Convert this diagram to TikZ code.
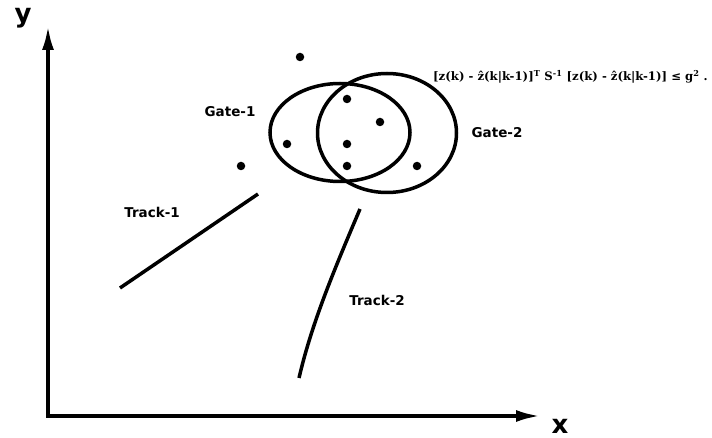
\documentclass[tikz,border=0pt]{standalone}
\usepackage{fontspec}
\setmainfont{DejaVu Sans}
\newfontfamily\formfont{DejaVu Serif}
\usetikzlibrary{arrows.meta,shapes.geometric}

\begin{document}
\begin{tikzpicture}[
 x=1pt,y=-1pt,
 axis/.style={line width=3.5pt,-{Latex[length=24pt,width=12pt]}},
 gate/.style={draw,ellipse,line width=3.5pt,inner sep=0pt},
 track/.style={line width=3.5pt},
 meas/.style={circle,fill,inner sep=0pt,minimum size=8.5pt},
 lbl/.style={font=\bfseries\fontsize{13.5}{15}\selectfont,inner sep=0pt},
 axlbl/.style={font=\bfseries\fontsize{26}{28}\selectfont,inner sep=0pt},
 formula/.style={font=\formfont\bfseries\fontsize{11.7}{13}\selectfont,inner sep=0pt,anchor=west}]
\useasboundingbox (0,0) rectangle (712,438);
% axes
\coordinate (origin) at (48,416);
\coordinate (corner) at (48,417.75);
\coordinate (ytip) at (48,26);
\coordinate (xtip) at (540,416);
\draw[axis] (corner)--(ytip);
\draw[axis] (origin)--(xtip);
\node[axlbl] (ylab) at (23,18) {y};
\node[axlbl] (xlab) at (560,426) {x};
% gates
\node[gate,minimum width=140pt,minimum height=98pt] (gate1) at (340,132.5) {};
\node[gate,minimum width=139pt,minimum height=119pt] (gate2) at (387,133) {};
\node[lbl] (g1lab) at (230,112) {Gate-1};
\node[lbl] (g2lab) at (497,133) {Gate-2};
\node[formula] (gatecond) at (433,77) {[z(k) - ẑ(k|k-1)]\textsuperscript{T} S\textsuperscript{-1} [z(k) - ẑ(k|k-1)] ≤ g\textsuperscript{2} .};
% measurements
\foreach \px/\py [count=\i] in {300/57,347/99,380/122,287/144,347/144,347/166,417/166,241/166}
 \node[meas] (m\i) at (\px,\py) {};
% tracks
\coordinate (t1a) at (120,288);
\coordinate (t1b) at (258,194);
\coordinate (t2a) at (360,209);
\coordinate (t2b) at (299,378);
\draw[track] (t1a)--(t1b);
\draw[track] (t2a) .. controls (335,268) and (312,322) .. (t2b);
\node[lbl] (t1lab) at (152,212) {Track-1};
\node[lbl] (t2lab) at (377,300) {Track-2};
\end{tikzpicture}
\end{document}
